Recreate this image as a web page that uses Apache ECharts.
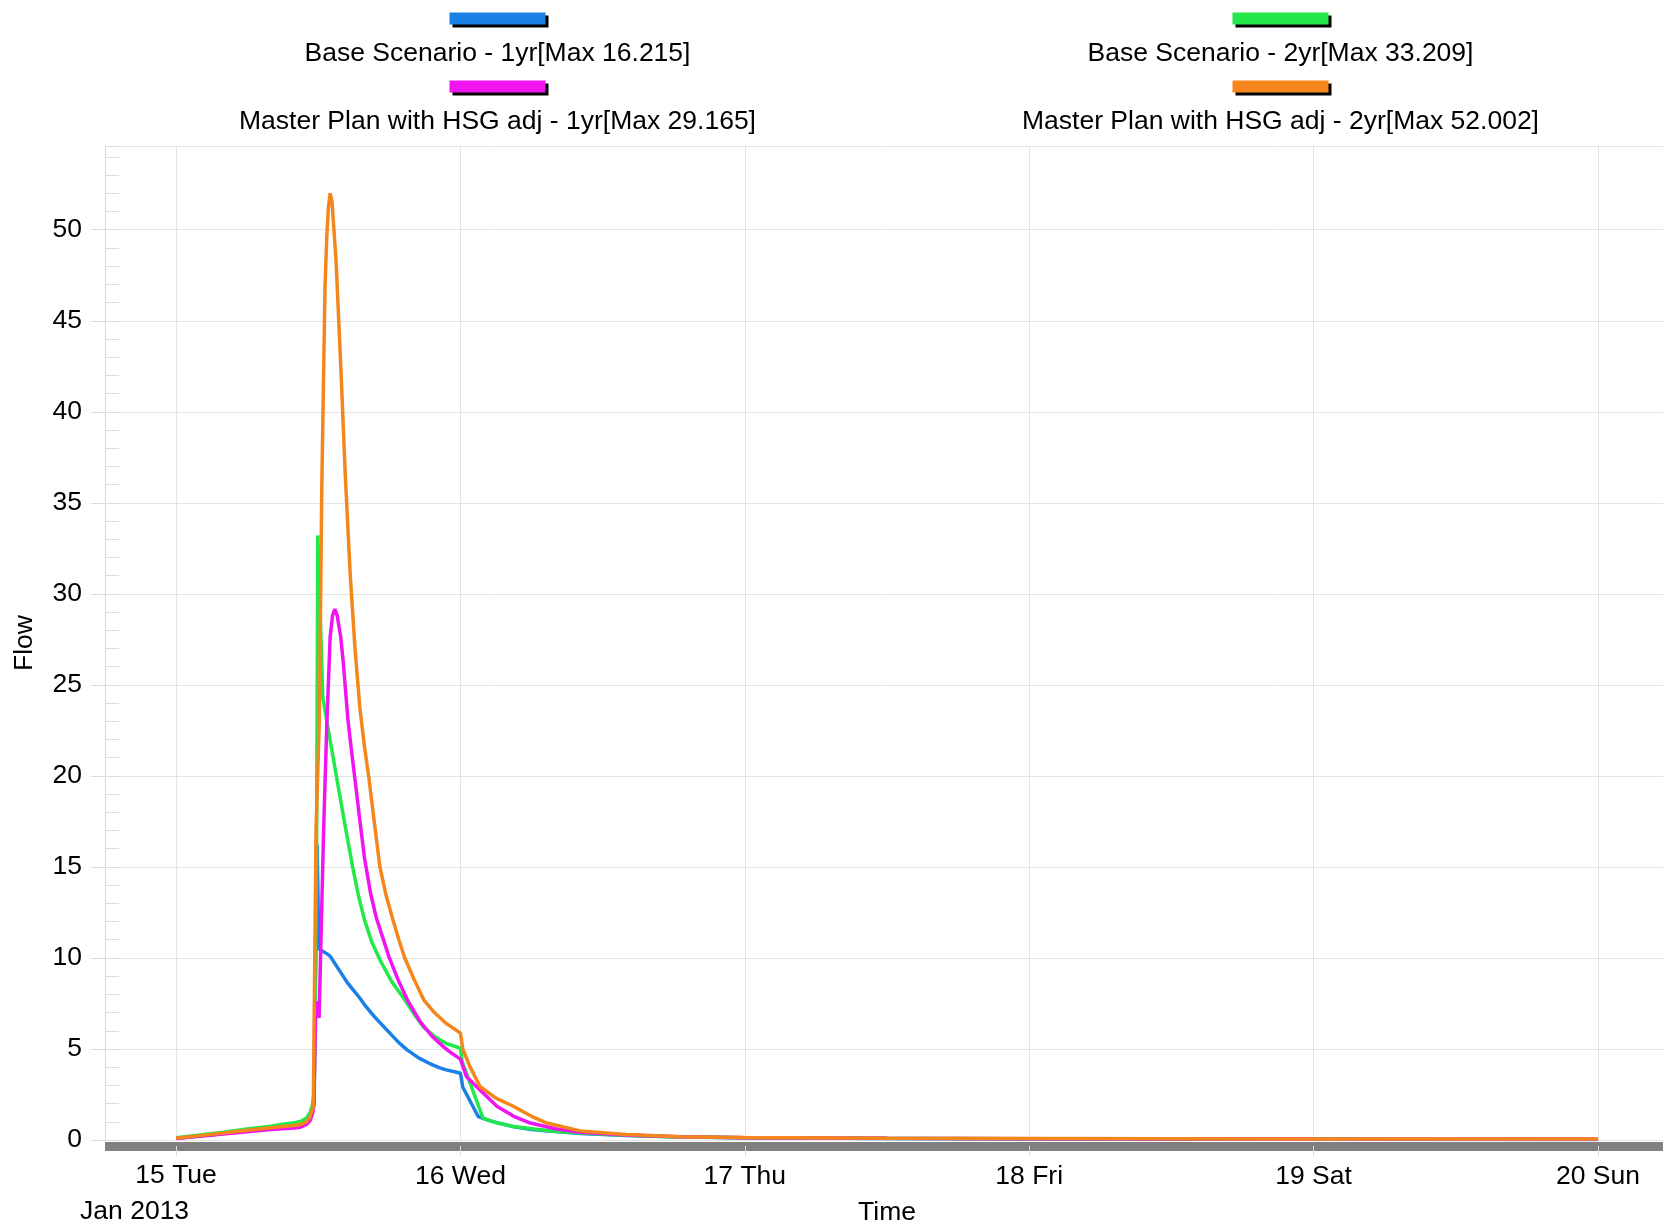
<!DOCTYPE html>
<html>
<head>
<meta charset="utf-8">
<script src="https://cdn.jsdelivr.net/npm/echarts@6/dist/echarts.min.js"></script>
<style>
html,body{margin:0;padding:0;background:#fff;}
#chart{width:1663px;height:1225px;}
</style>
</head>
<body>
<div id="chart"></div>
<script>
// ---------- data ----------
const seriesNames = [
  'Base Scenario - 1yr[Max 16.215]',
  'Base Scenario - 2yr[Max 33.209]',
  'Master Plan with HSG adj - 1yr[Max 29.165]',
  'Master Plan with HSG adj - 2yr[Max 52.002]'
];
const seriesColors = ['#1a80e6', '#22e84a', '#f014f0', '#f5861c'];

const dayLabels = ['15 Tue', '16 Wed', '17 Thu', '18 Fri', '19 Sat', '20 Sun'];
const monthLabel = 'Jan 2013';
const axisNameX = 'Time';
const axisNameY = 'Flow';

const yMax = 54.6;
const yStep = 5;
const yMinorStep = 1;

// [hours after 15 Jan 2013 00:00, flow]
const base1yr = [
  [0,0.1],[2,0.22],[4,0.36],[6,0.5],[8,0.64],[9,0.72],[10,0.8],[10.5,0.86],[11,0.98],[11.3,1.2],[11.5,1.5],[11.65,2.0],
  [11.9,16.215],[12.05,10.5],[12.4,10.35],[12.8,10.2],[13.0,10.1],[13.5,9.6],[14.0,9.1],[14.5,8.6],[15.0,8.2],[15.5,7.8],
  [16.0,7.35],[16.5,6.95],[17.2,6.45],[18.0,5.9],[18.8,5.35],[19.5,4.95],[20.5,4.5],[21.4,4.2],[22.2,3.98],[22.8,3.85],
  [23.5,3.75],[24.0,3.67],[24.2,2.9],[25.5,1.29],[26.5,1.05],[28.5,0.72],[30,0.58],[32,0.46],[34.1,0.36],[38,0.25],
  [42.5,0.16],[48,0.12],[60,0.08],[72,0.06],[96,0.04],[120,0.03]
];
const base2yr = [
  [0,0.12],[2,0.27],[4,0.43],[6,0.6],[8,0.76],[9,0.86],[10,0.95],[10.5,1.02],[11,1.2],[11.3,1.5],[11.5,1.9],[11.65,2.6],
  [11.85,15],[11.96,33.209],[12.38,24.3],[12.7,23.1],[13.5,20.1],[14.2,17.5],[14.9,15.0],[15.4,13.4],[15.9,12.1],
  [16.5,10.9],[17.2,9.9],[18.2,8.7],[19.3,7.7],[20.1,6.9],[20.9,6.2],[21.8,5.7],[22.8,5.3],[23.5,5.15],[24.0,5.04],
  [24.15,4.3],[25.9,1.2],[27,0.95],[28.5,0.74],[30,0.62],[32,0.48],[34.1,0.38],[38,0.26],[42.5,0.17],[48,0.13],
  [60,0.09],[72,0.07],[96,0.05],[120,0.04]
];
const master1yr = [
  [0,0.08],[2,0.2],[4,0.33],[6,0.45],[8,0.57],[9,0.62],[10,0.66],[10.5,0.7],[11,0.85],[11.3,1.05],[11.5,1.4],[11.62,1.9],
  [11.8,7.6],[12.07,6.7],[12.45,17.0],[12.72,22.8],[13.0,27.6],[13.2,28.8],[13.4,29.165],[13.6,28.8],[13.9,27.6],
  [14.1,26.3],[14.5,23.1],[14.8,21.4],[15.1,19.8],[15.5,17.6],[15.9,15.5],[16.4,13.6],[16.9,12.2],[17.2,11.6],
  [17.6,10.8],[18.0,10.0],[18.8,8.7],[19.6,7.6],[20.6,6.5],[21.6,5.7],[22.6,5.1],[23.3,4.75],[24.0,4.44],[24.5,3.49],
  [25.65,2.75],[27.1,1.84],[28.5,1.3],[29.9,0.93],[32,0.62],[34.1,0.42],[38,0.27],[42.5,0.18],[48,0.13],[60,0.09],
  [72,0.07],[96,0.05],[120,0.04]
];
const master2yr = [
  [0,0.1],[2,0.24],[4,0.38],[6,0.53],[8,0.67],[9,0.74],[10,0.8],[10.5,0.85],[11,1.0],[11.3,1.25],[11.58,1.84],
  [11.81,17.0],[12.09,23.1],[12.3,36.0],[12.57,46.9],[12.72,49.6],[12.85,51.2],[13.0,52.002],[13.15,51.6],[13.3,50.2],
  [13.5,48.3],[13.9,42.5],[14.26,36.8],[14.7,31.0],[15.1,27.0],[15.5,23.8],[15.9,21.6],[16.25,20.0],[16.7,17.6],
  [17.2,15.0],[17.7,13.5],[18.3,12.1],[18.8,11.0],[19.3,10.0],[20.1,8.8],[20.9,7.7],[21.8,7.0],[22.8,6.4],[23.5,6.1],
  [24.0,5.87],[24.2,5.0],[24.8,4.03],[25.65,2.94],[27,2.3],[28.5,1.84],[30,1.3],[31.3,0.93],[34.1,0.5],[38,0.3],
  [42.5,0.18],[48,0.14],[60,0.1],[72,0.08],[96,0.06],[120,0.05]
];
const seriesData = [base1yr, base2yr, master1yr, master2yr];

// ---------- time frame ----------
const HOUR = 3600 * 1000;
const DAY = 24 * HOUR;
const seriesStart = Date.UTC(2013, 0, 15, 0, 0);
const axisStart = Date.UTC(2013, 0, 14, 18, 0);
const axisEnd = Date.UTC(2013, 0, 20, 6, 0);

const FONT = '"Liberation Sans", Arial, Helvetica, sans-serif';
const FS = 26.5;

function toTime(pairs) {
  return pairs.map(p => [seriesStart + p[0] * HOUR, p[1]]);
}

const legendRich = {
  n: { fontSize: FS, color: '#000', fontFamily: FONT, width: 600, align: 'center', lineHeight: 58 }
};
seriesColors.forEach((c, i) => {
  legendRich['b' + i] = {
    width: 96, height: 12, lineHeight: 12, align: 'center',
    backgroundColor: c,
    shadowColor: '#000', shadowBlur: 0, shadowOffsetX: 3, shadowOffsetY: 3
  };
});
function legendFormatter(name) {
  const i = seriesNames.indexOf(name);
  return '{b' + i + '|}\n{n|' + name + '}';
}
function makeLegend(names, left) {
  return {
    data: names, orient: 'vertical', left: left, top: 5, padding: 0,
    itemGap: 6, itemWidth: 0, itemHeight: 0,
    formatter: legendFormatter,
    textStyle: { fontSize: FS, color: '#000', fontFamily: FONT, rich: legendRich }
  };
}

const option = {
  useUTC: true,
  animation: false,
  backgroundColor: '#fff',
  textStyle: { fontFamily: FONT },
  grid: { left: 105, right: -6, top: 146, bottom: 85, outerBoundsMode: 'none', containLabel: false },
  legend: [
    makeLegend([seriesNames[0], seriesNames[2]], 191.5),
    makeLegend([seriesNames[1], seriesNames[3]], 974.5)
  ],
  xAxis: {
    type: 'time',
    min: axisStart, max: axisEnd,
    minInterval: DAY, maxInterval: DAY,
    offset: 6,
    axisLine: { show: true, onZero: false, lineStyle: { color: '#808080', width: 9, cap: 'butt' } },
    axisTick: { show: true, length: 10, lineStyle: { color: '#dcdcdc', width: 1 } },
    splitLine: { show: true, lineStyle: { color: '#e4e4e4', width: 1 } },
    axisLabel: {
      showMinLabel: false, showMaxLabel: false,
      margin: 17, fontSize: FS, color: '#000', fontFamily: FONT,
      formatter: function (value) {
        const idx = Math.round((value - seriesStart) / DAY);
        if (idx < 0 || idx >= dayLabels.length) return '';
        if (idx === 0) return '{d|' + dayLabels[0] + '}\n{m|' + monthLabel + '}';
        return dayLabels[idx];
      },
      rich: {
        d: { fontSize: FS, color: '#000', fontFamily: FONT, align: 'center', lineHeight: 26 },
        m: { fontSize: FS, color: '#000', fontFamily: FONT, align: 'left', lineHeight: 46, padding: [0, 83, 0, 0] }
      }
    },
    name: axisNameX, nameLocation: 'middle', nameGap: 53, nameMoveOverlap: false,
    nameTextStyle: { fontSize: FS, color: '#000', fontFamily: FONT }
  },
  yAxis: [
    {
      type: 'value', min: 0, max: yMax, interval: yStep, position: 'left',
      axisLine: { show: true, lineStyle: { color: '#d8d8d8', width: 1 } },
      axisTick: { show: true, length: 14, lineStyle: { color: '#dcdcdc' } },
      splitLine: { show: true, lineStyle: { color: '#e4e4e4', width: 1 } },
      axisLabel: { showMaxLabel: false, margin: 23, fontSize: FS, color: '#000', fontFamily: FONT },
      name: axisNameY, nameLocation: 'middle', nameGap: 67, nameMoveOverlap: false,
      nameTextStyle: { fontSize: FS, color: '#000', fontFamily: FONT }
    },
    {
      type: 'value', min: 0, max: yMax, interval: yMinorStep, position: 'left',
      axisLine: { show: false },
      axisTick: { show: true, inside: true, length: 14, lineStyle: { color: '#dcdcdc' } },
      axisLabel: { show: false },
      splitLine: { show: false }
    }
  ],
  series: seriesNames.map((name, i) => ({
    name: name,
    type: 'line',
    yAxisIndex: 0,
    showSymbol: false,
    symbol: 'none',
    color: seriesColors[i],
    lineStyle: { width: 3.5, color: seriesColors[i] },
    data: toTime(seriesData[i])
  }))
};

const chart = echarts.init(document.getElementById('chart'), null, { renderer: 'canvas' });
chart.setOption(option);
</script>
</body>
</html>
